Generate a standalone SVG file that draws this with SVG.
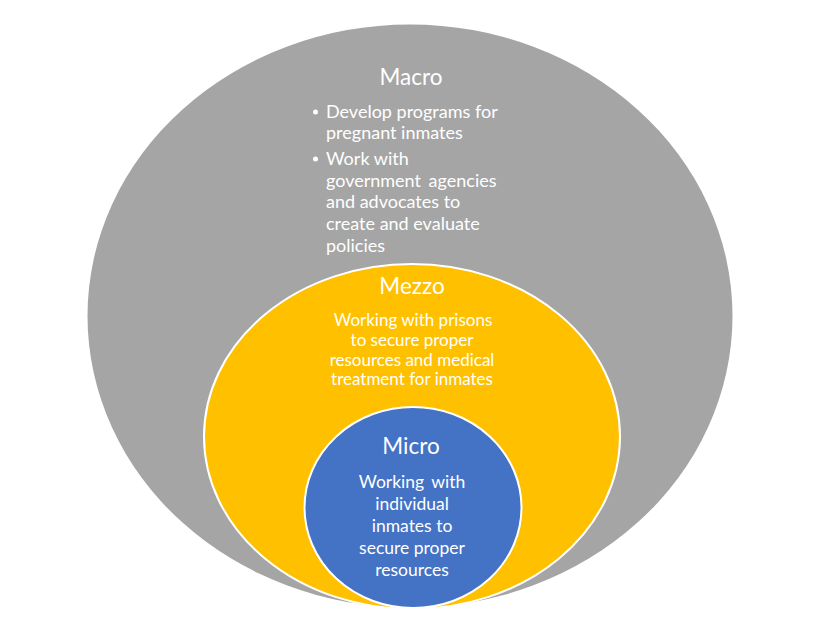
<svg xmlns="http://www.w3.org/2000/svg" width="819" height="630" viewBox="0 0 819 630">
<style>
text{font-family:Lato,"Liberation Sans",sans-serif;fill:#fff}
.title{font-size:22.5px;text-anchor:middle}
.body{font-size:17.5px}
.mb{font-size:18px}
.mz{font-size:17px;text-anchor:middle}
.c{text-anchor:middle}
.ring{stroke:#fff;stroke-width:2}
</style>
<rect width="819" height="630" fill="#fff"/>
<g id="macro">
<ellipse cx="410" cy="316" rx="322.5" ry="291.5" fill="#A5A5A5"/>
<text class="title" x="411" y="85">Macro</text>
<circle cx="315.5" cy="112" r="2.5" fill="#fff"/>
<circle cx="315.5" cy="159" r="2.5" fill="#fff"/>
<text class="mb" x="326" y="118">Develop programs for</text>
<text class="mb" x="326" y="139">pregnant inmates</text>
<text class="mb" x="326" y="165">Work with</text>
<text class="mb" x="326" y="187" word-spacing="3">government agencies</text>
<text class="mb" x="326" y="208">and advocates to</text>
<text class="mb" x="326" y="230">create and evaluate</text>
<text class="mb" x="326" y="252">policies</text>
</g>
<g id="mezzo">
<ellipse class="ring" cx="412" cy="436.5" rx="208" ry="172.5" fill="#FFC000"/>
<text class="title" x="412" y="294">Mezzo</text>
<text class="mz" x="413" y="326">Working with prisons</text>
<text class="mz" x="412" y="346">to secure proper</text>
<text class="mz" x="412" y="366">resources and medical</text>
<text class="mz" x="412" y="385">treatment for inmates</text>
</g>
<g id="micro">
<ellipse class="ring" cx="413" cy="507.5" rx="108.5" ry="100.5" fill="#4472C4"/>
<text class="title" x="411" y="454">Micro</text>
<text class="body c" x="412" y="488" word-spacing="3">Working with</text>
<text class="body c" x="412" y="510">individual</text>
<text class="body c" x="412" y="532">inmates to</text>
<text class="body c" x="412" y="554">secure proper</text>
<text class="body c" x="412" y="576">resources</text>
</g>
<g id="connectors"></g>
</svg>
